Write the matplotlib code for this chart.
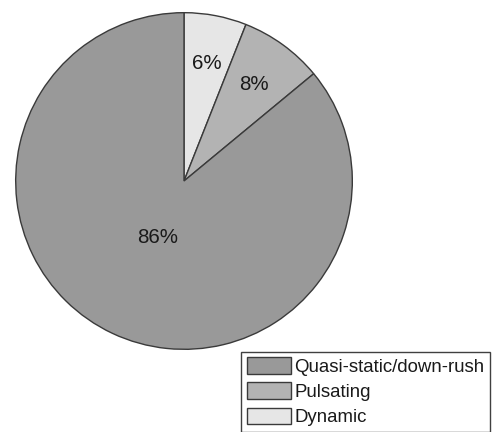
import matplotlib
matplotlib.use("Agg")
import matplotlib.pyplot as plt

# Share of events by type
categories = ["Dynamic", "Pulsating", "Quasi-static/down-rush"]
shares = [6, 8, 86]
colors = ["#e6e6e6", "#b3b3b3", "#999999"]

plt.rcParams["font.family"] = ["Liberation Sans", "DejaVu Sans"]

fig = plt.figure(figsize=(4.93, 4.32), dpi=100)
ax = fig.add_axes([14 / 493, 80 / 432, 340 / 493, 342 / 432])

wedges, texts, autotexts = ax.pie(
    shares,
    colors=colors,
    startangle=90,
    counterclock=False,
    autopct=lambda p: f"{p:.0f}%",
    pctdistance=0.71,
    wedgeprops=dict(edgecolor="#3a3a3a", linewidth=1.0),
    textprops=dict(fontsize=14.8, color="#1a1a1a"),
)

# pull the large slice's label toward the centre
x, y = autotexts[2].get_position()
autotexts[2].set_position((x * 0.37 / 0.71, y * 0.37 / 0.71))

ax.set_xlim(-1.01, 1.01)
ax.set_ylim(-1.01, 1.01)
ax.set_aspect("equal")

handles = wedges[::-1]
labels = categories[::-1]
leg = fig.legend(
    handles, labels,
    loc="lower right",
    bbox_to_anchor=(490 / 493, 0.0),
    fontsize=13.4,
    frameon=True,
    fancybox=False,
    framealpha=1,
    edgecolor="#404040",
    handlelength=2.35,
    handleheight=1.0,
    handletextpad=0.2,
    labelspacing=0.35,
    borderpad=0.3,
    borderaxespad=0.0,
)
leg.get_frame().set_linewidth(1.0)
for t in leg.get_texts():
    t.set_color("#1a1a1a")

fig.savefig("out.png", dpi=100)
